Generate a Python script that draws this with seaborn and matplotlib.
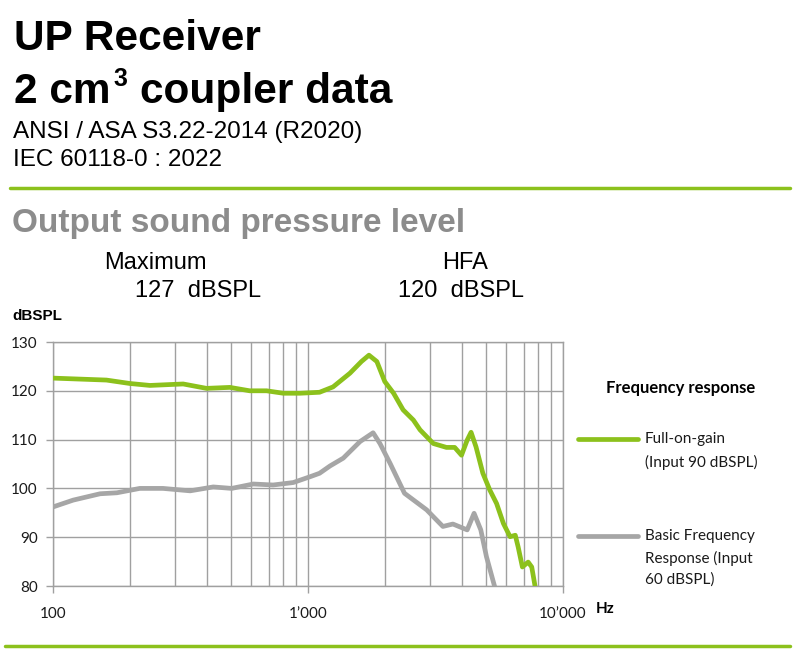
import matplotlib
matplotlib.use("Agg")
import matplotlib.pyplot as plt
import matplotlib.ticker as mticker
import seaborn as sns
import pandas as pd

# Full-on-gain (Input 90 dBSPL)
full_freq = [100, 162, 200, 240, 324, 400, 494, 591, 688, 800, 931, 1110, 1254,
             1460, 1620, 1734, 1862, 2000, 2166, 2360, 2590, 2750, 3100, 3490,
             3760, 4000, 4210, 4360, 4560, 4850, 5160, 5490, 5840, 6200, 6500,
             6670, 6930, 7300, 7540, 7780]
full_spl = [122.6, 122.2, 121.5, 121.1, 121.4, 120.5, 120.7, 120.0, 120.0, 119.5,
            119.5, 119.7, 120.8, 123.6, 126.0, 127.3, 126.0, 121.9, 119.5, 116.1,
            114.0, 112.0, 109.2, 108.4, 108.4, 106.8, 109.9, 111.5, 108.5, 103.1,
            99.7, 96.9, 92.8, 90.1, 90.4, 88.0, 83.9, 84.9, 83.9, 79.8]

# Basic Frequency Response (Input 60 dBSPL)
basic_freq = [100, 120, 153, 178, 219, 270, 345, 425, 502, 610, 730, 875, 1020,
              1110, 1220, 1375, 1600, 1800, 1915, 2100, 2390, 2920, 3380, 3700,
              4210, 4480, 4760, 5010, 5400]
basic_spl = [96.2, 97.6, 98.9, 99.1, 100.0, 100.0, 99.5, 100.3, 100.0, 100.9,
             100.7, 101.2, 102.4, 103.1, 104.6, 106.2, 109.6, 111.4, 109.2, 105.1,
             99.0, 95.6, 92.2, 92.7, 91.5, 94.9, 91.5, 86.0, 79.8]

x_ticks = [100, 1000, 10000]
x_labels = ["100", "1\u2019000", "10\u2019000"]
y_ticks = [80, 90, 100, 110, 120, 130]

GREEN = "#8cc11c"
GREY = "#a6a6a6"
GRID = "#a0a0a0"
TITLE_FONT = "Liberation Sans"
SMALL_FONT = "Lato"

sns.set_theme(style="white")
plt.rcParams["font.family"] = [TITLE_FONT, "DejaVu Sans"]

fig = plt.figure(figsize=(8, 6.55), dpi=100)
W, H = 800, 655


def px(x, y):
    return x / W, 1 - y / H


ax = fig.add_axes([53 / W, 1 - 586 / H, (563 - 53) / W, (586 - 342) / H])

df_full = pd.DataFrame({"freq": full_freq, "spl": full_spl})
df_basic = pd.DataFrame({"freq": basic_freq, "spl": basic_spl})
sns.lineplot(data=df_basic, x="freq", y="spl", ax=ax, color=GREY, lw=3.4,
             solid_capstyle="butt", zorder=3)
sns.lineplot(data=df_full, x="freq", y="spl", ax=ax, color=GREEN, lw=3.4,
             solid_capstyle="butt", zorder=4)

ax.set_xscale("log")
ax.set_xlim(100, 10000)
ax.set_ylim(80, 130)
ax.xaxis.set_major_locator(mticker.FixedLocator(x_ticks))
ax.xaxis.set_major_formatter(mticker.FixedFormatter(x_labels))
ax.xaxis.set_minor_locator(mticker.LogLocator(base=10, subs=range(2, 10)))
ax.xaxis.set_minor_formatter(mticker.NullFormatter())
ax.set_yticks(y_ticks)
ax.grid(True, which="both", axis="x", color=GRID, lw=1)
ax.grid(True, which="major", axis="y", color=GRID, lw=1)
ax.set_xlabel("")
ax.set_ylabel("")
for s in ax.spines.values():
    s.set_color(GRID)
    s.set_linewidth(1)
ax.tick_params(axis="both", which="major", length=5, width=1, color=GRID,
               direction="out", labelsize=11, labelcolor="#1a1a1a", pad=6)
ax.tick_params(axis="x", which="major", pad=10)
ax.tick_params(axis="x", which="minor", length=0)
ax.tick_params(axis="y", left=True)
ax.tick_params(axis="x", bottom=True)
for lab in ax.get_xticklabels() + ax.get_yticklabels():
    lab.set_family(SMALL_FONT)

# header
fig.text(*px(14, 50), "UP Receiver", fontsize=30.5, weight="bold", color="black",
         family=TITLE_FONT, va="baseline")
fig.text(*px(14, 103), "2 cm", fontsize=30.5, weight="bold", color="black",
         family=TITLE_FONT, va="baseline")
fig.text(*px(113, 86), "3", fontsize=18, weight="bold", color="black",
         family=TITLE_FONT, va="baseline")
fig.text(*px(140, 103), "coupler data", fontsize=30.5, weight="bold", color="black",
         family=TITLE_FONT, va="baseline")
fig.text(*px(13, 138), "ANSI / ASA S3.22-2014 (R2020)", fontsize=17.5,
         color="black", family=TITLE_FONT, va="baseline")
fig.text(*px(13, 166), "IEC 60118-0 : 2022", fontsize=17.5,
         color="black", family=TITLE_FONT, va="baseline")
fig.add_artist(plt.Line2D([10 / W, 790 / W], [1 - 188 / H] * 2, color=GREEN, lw=2.5))
fig.add_artist(plt.Line2D([5 / W, 790 / W], [1 - 646 / H] * 2, color=GREEN, lw=2.5))

fig.text(*px(12, 232), "Output sound pressure level", fontsize=24, weight="bold",
         color="#8c8c8c", family=TITLE_FONT, va="baseline")
fig.text(*px(155, 269), "Maximum", fontsize=17, color="black", family=TITLE_FONT,
         ha="center", va="baseline")
fig.text(*px(198, 297), "127  dBSPL", fontsize=17, color="black", family=TITLE_FONT,
         ha="center", va="baseline")
fig.text(*px(465, 269), "HFA", fontsize=17, color="black", family=TITLE_FONT,
         ha="center", va="baseline")
fig.text(*px(461, 297), "120  dBSPL", fontsize=17, color="black", family=TITLE_FONT,
         ha="center", va="baseline")
fig.text(*px(12, 320), "dBSPL", fontsize=11, weight="bold", color="black",
         family=TITLE_FONT, va="baseline")
fig.text(*px(596, 613), "Hz", fontsize=11, weight="bold", color="black",
         family=SMALL_FONT, va="baseline")

# legend
fig.text(*px(681, 388), "Frequency response", fontsize=12, weight="bold",
         color="black", family=SMALL_FONT, ha="center", va="center")
fig.add_artist(plt.Line2D([578 / W, 638 / W], [1 - 439 / H] * 2, color=GREEN, lw=3.4))
fig.add_artist(plt.Line2D([578 / W, 638 / W], [1 - 536 / H] * 2, color=GREY, lw=3.4))
fig.text(*px(645, 439), "Full-on-gain", fontsize=11, color="#1a1a1a",
         family=SMALL_FONT, va="center")
fig.text(*px(645, 462), "(Input 90 dBSPL)", fontsize=11, color="#1a1a1a",
         family=SMALL_FONT, va="center")
fig.text(*px(645, 536), "Basic Frequency", fontsize=11, color="#1a1a1a",
         family=SMALL_FONT, va="center")
fig.text(*px(645, 558), "Response (Input", fontsize=11, color="#1a1a1a",
         family=SMALL_FONT, va="center")
fig.text(*px(645, 580), "60 dBSPL)", fontsize=11, color="#1a1a1a",
         family=SMALL_FONT, va="center")

fig.savefig("out.png", dpi=100, facecolor="white")
